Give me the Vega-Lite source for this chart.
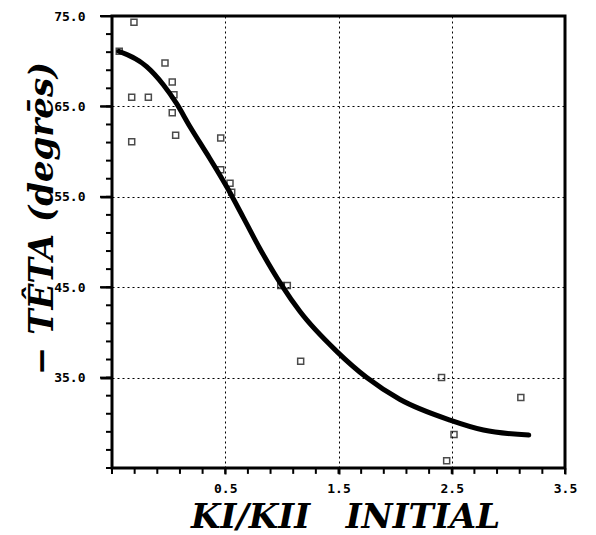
{
  "$schema": "https://vega.github.io/schema/vega-lite/v6.json",
  "autosize": {"type": "none"},
  "width": 453,
  "height": 452,
  "padding": {"left": 112, "top": 16, "right": 31, "bottom": 67},
  "background": "white",
  "config": {
    "view": {"stroke": "black", "strokeWidth": 3},
    "axis": {
      "zindex": 0,
      "labelOverlap": false,
      "labelFont": "DejaVu Sans Mono",
      "labelFontWeight": "bold",
      "labelFontSize": 13,
      "labelColor": "black",
      "gridColor": "black",
      "gridDash": [2, 3],
      "gridWidth": 1,
      "titleFont": "DejaVu Serif",
      "titleFontStyle": "italic",
      "titleFontWeight": "bold",
      "titleFontSize": 34,
      "titleColor": "black"
    }
  },
  "datasets": {
    "points": [
      {"k": -0.306, "theta": 74.3},
      {"k": -0.436, "theta": 71.1},
      {"k": -0.326, "theta": 66.0},
      {"k": -0.179, "theta": 66.0},
      {"k": -0.326, "theta": 61.1},
      {"k": -0.032, "theta": 69.8},
      {"k": 0.032, "theta": 67.7},
      {"k": 0.047, "theta": 66.3},
      {"k": 0.032, "theta": 64.3},
      {"k": 0.062, "theta": 61.8},
      {"k": 0.46, "theta": 61.5},
      {"k": 0.46, "theta": 58.0},
      {"k": 0.542, "theta": 56.5},
      {"k": 0.557, "theta": 55.5},
      {"k": 0.99, "theta": 45.2},
      {"k": 1.048, "theta": 45.2},
      {"k": 1.166, "theta": 36.8},
      {"k": 2.41, "theta": 35.0},
      {"k": 3.11, "theta": 32.8},
      {"k": 2.52, "theta": 28.7},
      {"k": 2.455, "theta": 25.8}
    ],
    "curve": [
      {"k": -0.44, "theta": 71.1},
      {"k": -0.194, "theta": 69.4},
      {"k": -0.047, "theta": 67.4},
      {"k": 0.071, "theta": 65.3},
      {"k": 0.189, "theta": 62.75},
      {"k": 0.336, "theta": 59.8},
      {"k": 0.513, "theta": 56.1},
      {"k": 0.66, "theta": 52.7},
      {"k": 0.8, "theta": 49.4},
      {"k": 0.999, "theta": 45.2},
      {"k": 1.16, "theta": 42.3},
      {"k": 1.484, "theta": 37.9},
      {"k": 1.749, "theta": 35.0},
      {"k": 2.04, "theta": 32.6},
      {"k": 2.485, "theta": 30.3},
      {"k": 2.78, "theta": 29.2},
      {"k": 3.18, "theta": 28.65}
    ],
    "xticks": [
      {"v": -0.5}, {"v": -0.3}, {"v": -0.1}, {"v": 0.1}, {"v": 0.3}, {"v": 0.5}, {"v": 0.7},
      {"v": 0.9}, {"v": 1.1}, {"v": 1.3}, {"v": 1.5}, {"v": 1.7}, {"v": 1.9}, {"v": 2.1},
      {"v": 2.3}, {"v": 2.5}, {"v": 2.7}, {"v": 2.9}, {"v": 3.1}, {"v": 3.3}, {"v": 3.5}
    ],
    "yticks": [
      {"v": 25}, {"v": 27}, {"v": 29}, {"v": 31}, {"v": 33}, {"v": 35}, {"v": 37}, {"v": 39},
      {"v": 41}, {"v": 43}, {"v": 45}, {"v": 47}, {"v": 49}, {"v": 51}, {"v": 53}, {"v": 55},
      {"v": 57}, {"v": 59}, {"v": 61}, {"v": 63}, {"v": 65}, {"v": 67}, {"v": 69}, {"v": 71},
      {"v": 73}, {"v": 75}
    ]
  },
  "resolve": {"axis": {"x": "independent", "y": "independent"}},
  "layer": [
    {
      "data": {"name": "curve"},
      "mark": {"type": "line", "color": "black", "strokeWidth": 5, "strokeCap": "round", "interpolate": "monotone"},
      "encoding": {
        "x": {
          "field": "k", "type": "quantitative",
          "scale": {"domain": [-0.5, 3.5], "nice": false, "zero": false},
          "axis": {
            "orient": "bottom",
            "values": [0.5, 1.5, 2.5, 3.5],
            "format": ".1f",
            "grid": true,
            "domain": false,
            "ticks": true,
            "tickColor": "black",
            "tickWidth": 2,
            "tickSize": 6,
            "labelPadding": 8,
            "labelFlush": false,
            "title": "KI/KII\u00a0\u00a0\u00a0INITIAL",
            "titleBaseline": "alphabetic",
            "titleAlign": "center",
            "titleX": 233,
            "titleY": 59
          }
        },
        "y": {
          "field": "theta", "type": "quantitative",
          "scale": {"domain": [25, 75], "nice": false, "zero": false},
          "axis": {
            "orient": "left",
            "values": [35, 45, 55, 65, 75],
            "format": ".1f",
            "grid": true,
            "domain": false,
            "ticks": true,
            "tickColor": "black",
            "tickWidth": 2,
            "tickSize": 12,
            "labelPadding": 15,
            "labelFlush": false,
            "title": "− TÊTA (degrēs)",
            "titleAngle": -90,
            "titleX": -70,
            "titleY": 202,
            "titleAlign": "center",
            "titleBaseline": "middle"
          }
        }
      }
    },
    {
      "data": {"name": "points"},
      "mark": {"type": "point", "shape": "square", "filled": false, "stroke": "black", "strokeWidth": 1.5, "size": 36},
      "encoding": {
        "x": {"field": "k", "type": "quantitative", "axis": null},
        "y": {"field": "theta", "type": "quantitative", "axis": null}
      }
    },
    {
      "data": {"name": "xticks"},
      "mark": {"type": "rule", "color": "black", "strokeWidth": 2, "clip": false},
      "encoding": {
        "x": {"field": "v", "type": "quantitative", "axis": null},
        "y": {"datum": 25, "type": "quantitative", "axis": null},
        "y2": {"datum": 24.35}
      }
    },
    {
      "data": {"name": "yticks"},
      "mark": {"type": "rule", "color": "black", "strokeWidth": 2, "clip": false},
      "encoding": {
        "y": {"field": "v", "type": "quantitative", "axis": null},
        "x": {"datum": -0.5, "type": "quantitative", "axis": null},
        "x2": {"datum": -0.553}
      }
    },
    {
      "data": {"name": "yticks"},
      "transform": [{"filter": {"field": "v", "oneOf": [35, 45, 55, 65, 75]}}],
      "mark": {"type": "rule", "color": "black", "strokeWidth": 2, "clip": false},
      "encoding": {
        "y": {"field": "v", "type": "quantitative", "axis": null},
        "x": {"datum": -0.5, "type": "quantitative", "axis": null},
        "x2": {"datum": -0.606}
      }
    }
  ]
}
